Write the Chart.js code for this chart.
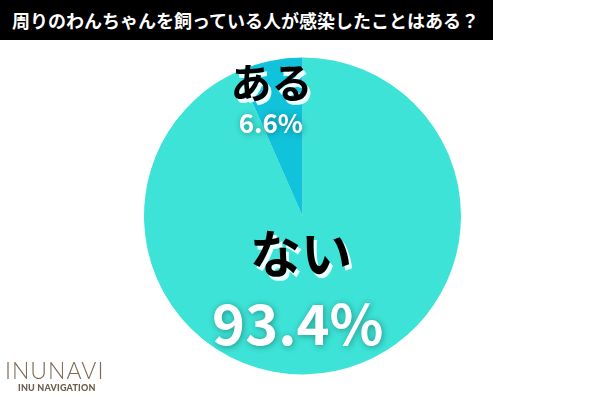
<!DOCTYPE html>
<html><head><meta charset="utf-8">
<script src="https://cdn.jsdelivr.net/npm/chart.js@4"></script>
<style>
html,body{margin:0;padding:0;background:#fff;}
#wrap{position:relative;width:600px;height:400px;overflow:hidden;}
#title{position:absolute;left:0;top:0;width:493px;height:40px;background:#000;color:#fff;
 font-family:"Noto Sans CJK JP";font-weight:700;font-size:18px;line-height:40px;padding-left:12px;box-sizing:border-box;white-space:nowrap;}
#logo1{position:absolute;left:5px;top:356px;font-family:"Lato","Open Sans";font-weight:300;font-size:23px;color:#7d6b55;letter-spacing:1px;}
#logo2{position:absolute;left:18px;top:382px;font-family:"Lato";font-weight:900;font-size:9px;color:#6d5d4a;letter-spacing:0.2px;}
canvas{position:absolute;left:0;top:0;}
</style></head>
<body><div id="wrap">
<canvas id="c" width="600" height="400"></canvas>
<div id="title">周りのわんちゃんを飼っている人が感染したことはある？</div>
<div id="logo1">INUNAVI</div>
<div id="logo2">INU NAVIGATION</div>
</div>
<script>
const titleText = "周りのわんちゃんを飼っている人が感染したことはある？";
const categories = ["ない", "ある"];
const values = [93.4, 6.6];
const colors = ["#3ce3d6", "#10c3da"];

const labelPlugin = {
  id: 'labels',
  afterDatasetsDraw(chart) {
    const ctx = chart.ctx;
    const meta = chart.getDatasetMeta(0);
    const a0 = meta.data[0];
    const cx = a0.x, cy = a0.y, R = a0.outerRadius;
    const font = (s) => `700 ${s}px "Noto Sans CJK JP"`;
    function name(t, x, y, s) {
      ctx.save();
      ctx.font = font(s); ctx.textAlign = 'center'; ctx.textBaseline = 'middle';
      ctx.fillStyle = '#eaffff';
      ctx.fillText(t, x + 3, y + 4);
      ctx.fillStyle = '#000';
      ctx.fillText(t, x, y);
      ctx.restore();
    }
    function pct(t, x, y, s) {
      ctx.save();
      ctx.font = font(s); ctx.textAlign = 'center'; ctx.textBaseline = 'middle';
      ctx.shadowColor = 'rgba(0,0,0,0.35)'; ctx.shadowBlur = 6; ctx.shadowOffsetX = 1; ctx.shadowOffsetY = 1;
      ctx.fillStyle = '#fff';
      ctx.fillText(t, x, y);
      ctx.restore();
    }
    name(categories[1], cx - 0.195 * R, cy - 0.845 * R, 41);
    pct(values[1].toFixed(1) + '%', cx - 0.2 * R, cy - 0.585 * R, 26);
    name(categories[0], cx - 0.01 * R, cy + 0.235 * R, 51);
    pct(values[0].toFixed(1) + '%', cx - 0.03 * R, cy + 0.68 * R, 56);
  }
};

new Chart(document.getElementById('c'), {
  type: 'pie',
  data: { labels: categories, datasets: [{ data: values, backgroundColor: colors, borderWidth: 0 }] },
  options: {
    responsive: false, animation: false,
    layout: { padding: { top: 57, bottom: 25, left: 144, right: 139 } },
    plugins: { legend: { display: false }, tooltip: { enabled: false }, title: { display: false } }
  },
  plugins: [labelPlugin]
});
</script>
</body></html>
